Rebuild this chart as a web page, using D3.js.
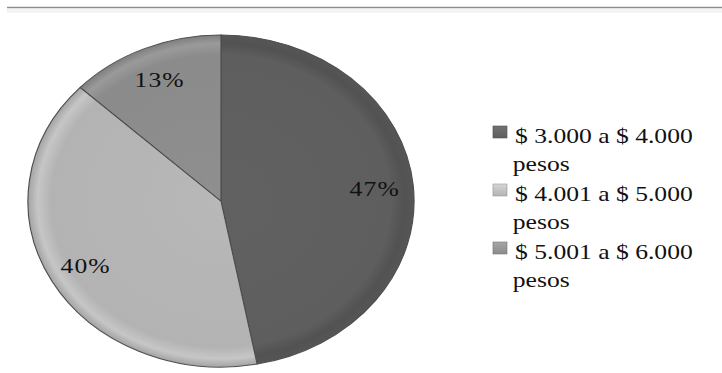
<!DOCTYPE html>
<html>
<head>
<meta charset="utf-8">
<script src="https://cdn.jsdelivr.net/npm/d3@7/dist/d3.min.js"></script>
<style>
  html, body { margin: 0; padding: 0; background: #fff; }
  svg { display: block; }
</style>
</head>
<body>
<svg id="chart" width="722" height="373"></svg>
<script>
// Income ranges and their share of respondents (%)
const categories = ["$ 3.000 a $ 4.000 pesos", "$ 4.001 a $ 5.000 pesos", "$ 5.001 a $ 6.000 pesos"];
const legendLines = [["$ 3.000 a $ 4.000", "pesos"], ["$ 4.001 a $ 5.000", "pesos"], ["$ 5.001 a $ 6.000", "pesos"]];
const values = [47, 40, 13];
const sliceColors = ["#5e5e5e", "#b3b3b3", "#8b8b8b"];
const rimColors = ["#525252", "#c6c6c6", "#9a9a9a"];

// Pick the first installed serif face (checked by measuring against generic fallbacks)
function pickFont(candidates) {
  const ctx = document.createElement("canvas").getContext("2d");
  const sample = "pesos $ 3.000 a 47% mwWil";
  const widthOf = f => { ctx.font = "40px " + f; return ctx.measureText(sample).width; };
  const baseMono = widthOf("monospace"), baseSans = widthOf("sans-serif");
  for (const name of candidates) {
    const q = `"${name}"`;
    if (widthOf(q + ", monospace") !== baseMono || widthOf(q + ", sans-serif") !== baseSans) return q;
  }
  return "serif";
}
const FONT = pickFont(["Liberation Serif", "Times New Roman", "Tinos", "DejaVu Serif", "Noto Serif", "FreeSerif"]) + ", serif";

const svg = d3.select("#chart");
const W = 722, H = 373;
const cx = 221, cy = 201, R = 166, stretch = 1.163;

// Thin rule along the top of the frame
svg.append("line")
  .attr("x1", 7).attr("x2", W).attr("y1", 7.5).attr("y2", 7.5)
  .attr("stroke", "#8e8e8e").attr("stroke-width", 1.5);
svg.append("rect")
  .attr("x", 7).attr("y", 9).attr("width", W - 7).attr("height", 4)
  .attr("fill", "#f4f4f4");

const defs = svg.append("defs");
sliceColors.forEach((c, i) => {
  const g = defs.append("radialGradient")
    .attr("id", "sl" + i)
    .attr("gradientUnits", "userSpaceOnUse")
    .attr("cx", 0).attr("cy", 0).attr("r", R);
  g.append("stop").attr("offset", 0).attr("stop-color", d3.color(c).brighter(0.08));
  g.append("stop").attr("offset", 0.88).attr("stop-color", c);
  g.append("stop").attr("offset", 0.95).attr("stop-color", rimColors[i]);
  g.append("stop").attr("offset", 1).attr("stop-color", d3.color(c).darker(0.25));
});

const pie = d3.pie().sort(null).value(d => d);
const arcs = pie(values);
const arc = d3.arc().innerRadius(0).outerRadius(R);
const labelArc = d3.arc().innerRadius(R * 0.8).outerRadius(R * 0.8);

const plot = svg.append("g")
  .attr("transform", `translate(${cx},${cy}) scale(${stretch},1)`);

plot.selectAll("path.slice")
  .data(arcs)
  .join("path")
  .attr("class", "slice")
  .attr("d", arc)
  .attr("fill", (d, i) => `url(#sl${i})`)
  .attr("stroke", "#4e4e4e")
  .attr("stroke-width", 1);

plot.selectAll("text.pct")
  .data(arcs)
  .join("text")
  .attr("class", "pct")
  .attr("transform", d => `translate(${labelArc.centroid(d)})`)
  .attr("text-anchor", "middle")
  .attr("dy", "0.35em")
  .style("font-family", FONT)
  .attr("font-size", 22)
  .attr("letter-spacing", 1)
  .attr("fill", "#111")
  .text(d => d.value + "%");

// Legend
sliceColors.forEach((c, i) => {
  const g = defs.append("linearGradient")
    .attr("id", "sq" + i).attr("x1", 0).attr("y1", 0).attr("x2", 0).attr("y2", 1);
  g.append("stop").attr("offset", 0).attr("stop-color", d3.color(c).brighter(0.5));
  g.append("stop").attr("offset", 1).attr("stop-color", c);
});

const legend = svg.append("g")
  .attr("transform", `translate(493,0) scale(${stretch},1)`);
const rowY = d3.scaleLinear().domain([0, 1]).range([143, 201]);

const items = legend.selectAll("g.item")
  .data(categories)
  .join("g")
  .attr("class", "item")
  .attr("transform", (d, i) => `translate(0,${rowY(i)})`);

items.append("rect")
  .attr("x", 0).attr("y", -17)
  .attr("width", 12).attr("height", 12)
  .attr("fill", (d, i) => `url(#sq${i})`)
  .attr("stroke", (d, i) => d3.color(sliceColors[i]).darker(0.4))
  .attr("stroke-width", 0.6);

items.each(function(d, i) {
  const t = d3.select(this).append("text")
    .style("font-family", FONT)
    .attr("font-size", 22)
    .attr("fill", "#111");
  legendLines[i].forEach((line, k) => {
    t.append("tspan")
      .attr("x", k === 0 ? 19 : 17)
      .attr("y", k * 28)
      .text(line);
  });
});
</script>
</body>
</html>
